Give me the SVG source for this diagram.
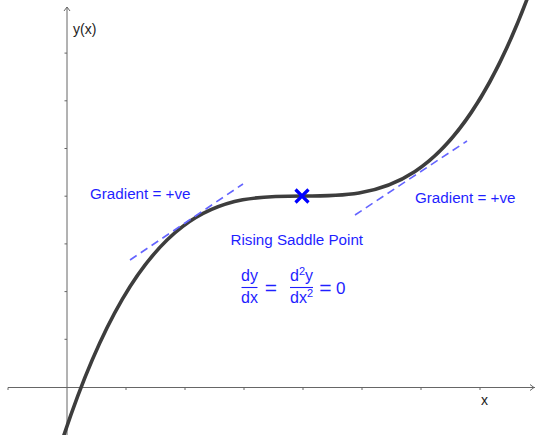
<svg xmlns="http://www.w3.org/2000/svg" width="535" height="435" viewBox="0 0 535 435">
<style>
.axis{stroke:#666;stroke-width:1;fill:none}
.tick{stroke:#666;stroke-width:1}
.curve{stroke:#3d3d3d;stroke-width:3.6;fill:none;stroke-linecap:round}
.tan{stroke:#6464ff;stroke-width:1.6;stroke-dasharray:8 5;fill:none}
.lbl{font-family:"Liberation Sans",Arial,sans-serif;fill:#1f1fff}
.ax{font-family:"Liberation Sans",Arial,sans-serif;fill:#222;font-size:14px}
.bar{stroke:#1f1fff;stroke-width:1.1}
</style>
<rect width="535" height="435" fill="#fff"/>
<g id="axes">
<line class="axis" x1="67" y1="7" x2="67" y2="435"/>
<polyline class="axis" points="64,11 67,7 70,11"/>
<line class="axis" x1="8" y1="387.5" x2="535" y2="387.5"/>
<polyline class="axis" points="530,384.5 534,387.5 530,390.5"/>
<g class="tick">
<line x1="8" y1="387.5" x2="8" y2="390"/>
<line x1="126" y1="387.5" x2="126" y2="390"/>
<line x1="185" y1="387.5" x2="185" y2="390"/>
<line x1="244" y1="387.5" x2="244" y2="390"/>
<line x1="303" y1="387.5" x2="303" y2="390"/>
<line x1="362" y1="387.5" x2="362" y2="390"/>
<line x1="421" y1="387.5" x2="421" y2="390"/>
<line x1="480" y1="387.5" x2="480" y2="390"/>
<line x1="64.5" y1="339.3" x2="67" y2="339.3"/>
<line x1="64.5" y1="291.6" x2="67" y2="291.6"/>
<line x1="64.5" y1="243.9" x2="67" y2="243.9"/>
<line x1="64.5" y1="196.2" x2="67" y2="196.2"/>
<line x1="64.5" y1="148.5" x2="67" y2="148.5"/>
<line x1="64.5" y1="100.8" x2="67" y2="100.8"/>
<line x1="64.5" y1="53.1" x2="67" y2="53.1"/>
</g>
<text class="ax" x="73" y="34">y(x)</text>
<text class="ax" x="481" y="405">x</text>
</g>
<g id="connectors">
<path id="curve" class="curve" d="M62,440.96 C217,-31.68 372,407.61 527,-0.69"/>
<line id="tangent-left" class="tan" x1="130" y1="260" x2="243" y2="184"/>
<line id="tangent-right" class="tan" x1="355" y1="215" x2="467" y2="141"/>
</g>
<g id="saddle-point">
<path d="M295.5,189.5 L308.5,202.5 M308.5,189.5 L295.5,202.5" stroke="#0000ff" stroke-width="3.2" fill="none"/>
</g>
<g id="label-left">
<text class="lbl" x="90" y="199" font-size="15.2">Gradient = +ve</text>
</g>
<g id="label-right">
<text class="lbl" x="415" y="203" font-size="15.2">Gradient = +ve</text>
</g>
<g id="label-saddle">
<text class="lbl" x="230.5" y="245" font-size="15.2">Rising Saddle Point</text>
</g>
<g id="equation">
<text class="lbl" x="249.5" y="281" text-anchor="middle" font-size="16">dy</text>
<line class="bar" x1="241.5" y1="287.5" x2="257.5" y2="287.5"/>
<text class="lbl" x="249.5" y="303" text-anchor="middle" font-size="16">dx</text>
<text class="lbl" x="271" y="294.5" text-anchor="middle" font-size="21">=</text>
<text class="lbl" x="290" y="281" font-size="16">d<tspan font-size="11" dy="-6">2</tspan><tspan dy="6">y</tspan></text>
<line class="bar" x1="290" y1="287.5" x2="313" y2="287.5"/>
<text class="lbl" x="290" y="303" font-size="16">dx<tspan font-size="11" dy="-6">2</tspan></text>
<text class="lbl" x="325.5" y="294.5" text-anchor="middle" font-size="21">=</text>
<text class="lbl" x="336" y="293.5" font-size="17">0</text>
</g>
</svg>
